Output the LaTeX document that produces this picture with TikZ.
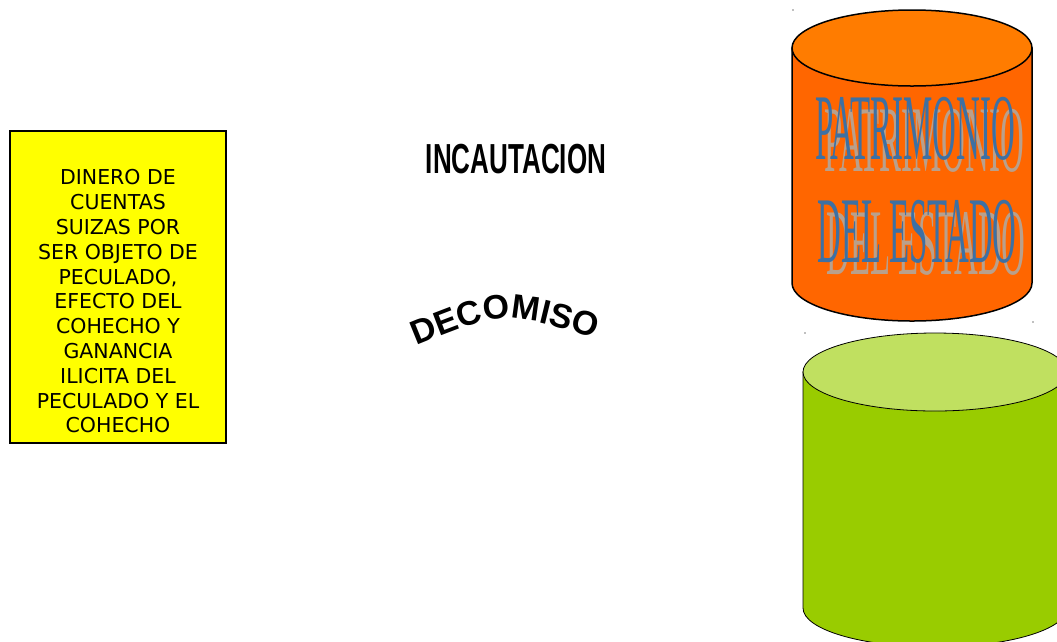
\documentclass[tikz,border=0pt]{standalone}
\usepackage{fontspec}
\usepackage{graphicx}
\usetikzlibrary{decorations.text}
\newfontfamily\dejavu{DejaVu Sans}
\newfontfamily\arialfnt{Liberation Sans}
\newfontfamily\timesfnt{Liberation Serif}
\definecolor{ortop}{RGB}{255,124,0}
\definecolor{orbody}{RGB}{255,102,0}
\definecolor{grtop}{RGB}{192,224,96}
\definecolor{grbody}{RGB}{153,204,0}
\definecolor{patblue}{RGB}{61,112,163}
\definecolor{patshade}{RGB}{185,160,140}
\definecolor{boxyellow}{RGB}{255,255,0}
\begin{document}
\begin{tikzpicture}[x=1pt, y=-1pt,
  yellowbox/.style={draw, fill=boxyellow, line width=1.5pt, inner sep=0pt, minimum width=216pt, minimum height=312pt},
  boxtext/.style={align=center, inner sep=0pt, font=\dejavu\fontsize{20.5}{24.8}\selectfont},
  title/.style={inner sep=0pt, font=\arialfnt\bfseries\fontsize{42}{42}\selectfont},
  pat/.style={inner sep=0pt, text=patblue, font=\timesfnt\fontsize{94}{94}\selectfont},
  patshadow/.style={pat, text=patshade},
  speck/.style={fill=gray, draw=none}]
\useasboundingbox (0,0) rectangle (1057,641);

\node (cuentas) at (118,287) [yellowbox] {};
\node (cuentastxt) at (118,301.5) [boxtext] {DINERO DE\\CUENTAS\\SUIZAS POR\\SER OBJETO DE\\PECULADO,\\EFECTO DEL\\COHECHO Y\\GANANCIA\\ILICITA DEL\\PECULADO Y EL\\COHECHO};

\node (incautacion) at (516,159) [title] {\scalebox{0.62}[1]{INCAUTACION}};
\path[decorate, decoration={text along path, text align=center,
  text={|\arialfnt\bfseries\fontsize{34}{34}\selectfont|DECOMISO}}]
  (412,348) .. controls (505,310) .. (600,340);

% patrimonio
\filldraw[fill=orbody, line width=1.5pt] (792,48) -- (792,283) arc[start angle=180, end angle=0, x radius=120, y radius=38] -- (1032,48) -- cycle;
\filldraw[fill=ortop, line width=1.5pt] (912,48) ellipse[x radius=120, y radius=38];
\node (patshadow1) at (924,141) [patshadow] {\scalebox{0.35}[1]{PATRIMONIO}};
\node (estadoshadow) at (926,244) [patshadow] {\scalebox{0.35}[1]{DEL ESTADO}};
\node (patrimonio) at (915,129) [pat] {\scalebox{0.35}[1]{PATRIMONIO}};
\node (estado) at (917,232) [pat] {\scalebox{0.35}[1]{DEL ESTADO}};

% green
\filldraw[fill=grbody, line width=0.8pt] (803,372) -- (803,608) arc[start angle=180, end angle=0, x radius=132, y radius=39] -- (1067,372) -- cycle;
\filldraw[fill=grtop, line width=0.8pt] (935,372) ellipse[x radius=132, y radius=39];

\fill[speck] (793,10) circle (0.8);
\fill[speck] (805,333) circle (0.8);
\fill[speck] (1033,322) circle (0.8);
\end{tikzpicture}
\end{document}
